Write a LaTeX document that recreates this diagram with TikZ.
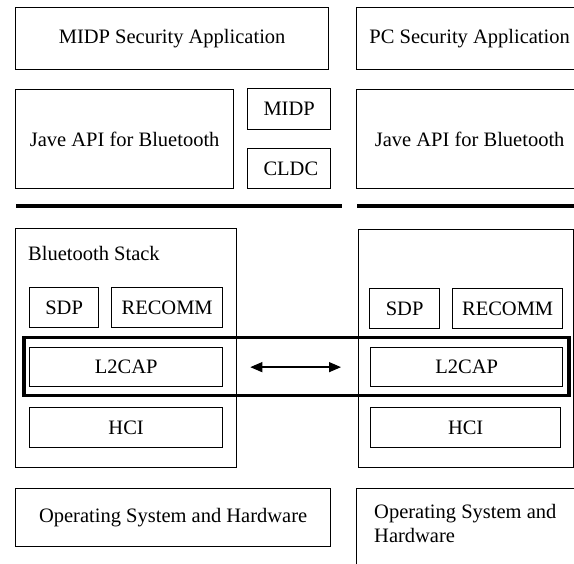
\documentclass[tikz,border=0pt]{standalone}
\usepackage{fontspec}
\setmainfont{Liberation Serif}
\usetikzlibrary{arrows.meta}

\begin{document}
\begin{tikzpicture}[x=1pt, y=-1pt,
		blk/.style={draw, line width=1.3pt, inner sep=0pt, anchor=north west, font=\fontsize{20.5}{24}\selectfont},
		txt/.style={inner sep=0pt, font=\fontsize{20.5}{24}\selectfont},
		bar/.style={line width=4pt},
		linkarrow/.style={{Triangle[length=12pt,width=10pt]}-{Triangle[length=12pt,width=10pt]}, line width=1.3pt}]
		\useasboundingbox ( 0, 0 ) rectangle ( 574, 564 );
		\clip ( 0, 0 ) rectangle ( 574, 564 );

		% applications
		\node [blk, minimum width=313pt, minimum height=62pt] (msa) at ( 15, 7 ) {MIDP Security Application};
		\node [blk, minimum width=226pt, minimum height=62pt] (psa) at ( 356, 7 ) {PC Security Application};

		% java api
		\node [blk, minimum width=218pt, minimum height=99pt] (ljava) at ( 15, 89 ) {Jave API for Bluetooth};
		\node [blk, minimum width=83pt, minimum height=41pt] (midp) at ( 247, 88 ) {MIDP};
		\node [blk, minimum width=83pt, minimum height=40pt] (cldc) at ( 247, 148 ) {\,CLDC};
		\node [blk, minimum width=226pt, minimum height=99pt] (rjava) at ( 356, 89 ) {Jave API for Bluetooth};

		% separators
		\draw [bar] ( 16, 206 ) -- ( 342, 206 );
		\draw [bar] ( 357, 206 ) -- ( 580, 206 );

		% bluetooth stack, mobile
		\node [blk, minimum width=221pt, minimum height=239pt] (lstack) at ( 15, 228 ) {};
		\node [txt, anchor=west] (lstacklbl) at ( 28, 253 ) {Bluetooth Stack};
		\node [blk, minimum width=69pt, minimum height=40pt] (lsdp) at ( 29, 287 ) {SDP};
		\node [blk, minimum width=111pt, minimum height=40pt] (lrecomm) at ( 111, 287 ) {RECOMM};
		\node [blk, minimum width=193pt, minimum height=39pt] (ll2cap) at ( 29, 347 ) {L2CAP};
		\node [blk, minimum width=193pt, minimum height=40pt] (lhci) at ( 29, 407 ) {HCI};

		% bluetooth stack, pc
		\node [blk, minimum width=215pt, minimum height=238pt] (rstack) at ( 358, 229 ) {};
		\node [blk, minimum width=70pt, minimum height=40pt] (rsdp) at ( 369, 288 ) {SDP};
		\node [blk, minimum width=110pt, minimum height=40pt] (rrecomm) at ( 452, 288 ) {RECOMM};
		\node [blk, minimum width=192pt, minimum height=39pt] (rl2cap) at ( 370, 347 ) {L2CAP};
		\node [blk, minimum width=190pt, minimum height=40pt] (rhci) at ( 370, 407 ) {HCI};

		% l2cap link
		\node [blk, line width=3.5pt, minimum width=545pt, minimum height=58pt] (link) at ( 22, 336 ) {};
		\draw [linkarrow, shorten <=27pt, shorten >=29pt] (ll2cap.east) -- (rl2cap.west);

		% operating system
		\node [blk, minimum width=315pt, minimum height=58pt] (los) at ( 15, 488 ) {Operating System and Hardware};
		\node [blk, minimum width=226pt, minimum height=90pt] (ros) at ( 356, 488 ) {};
		\node [txt, anchor=north west, align=left] (rostxt) at ( 374, 504 ) {Operating System and\\Hardware};
\end{tikzpicture}
\end{document}
